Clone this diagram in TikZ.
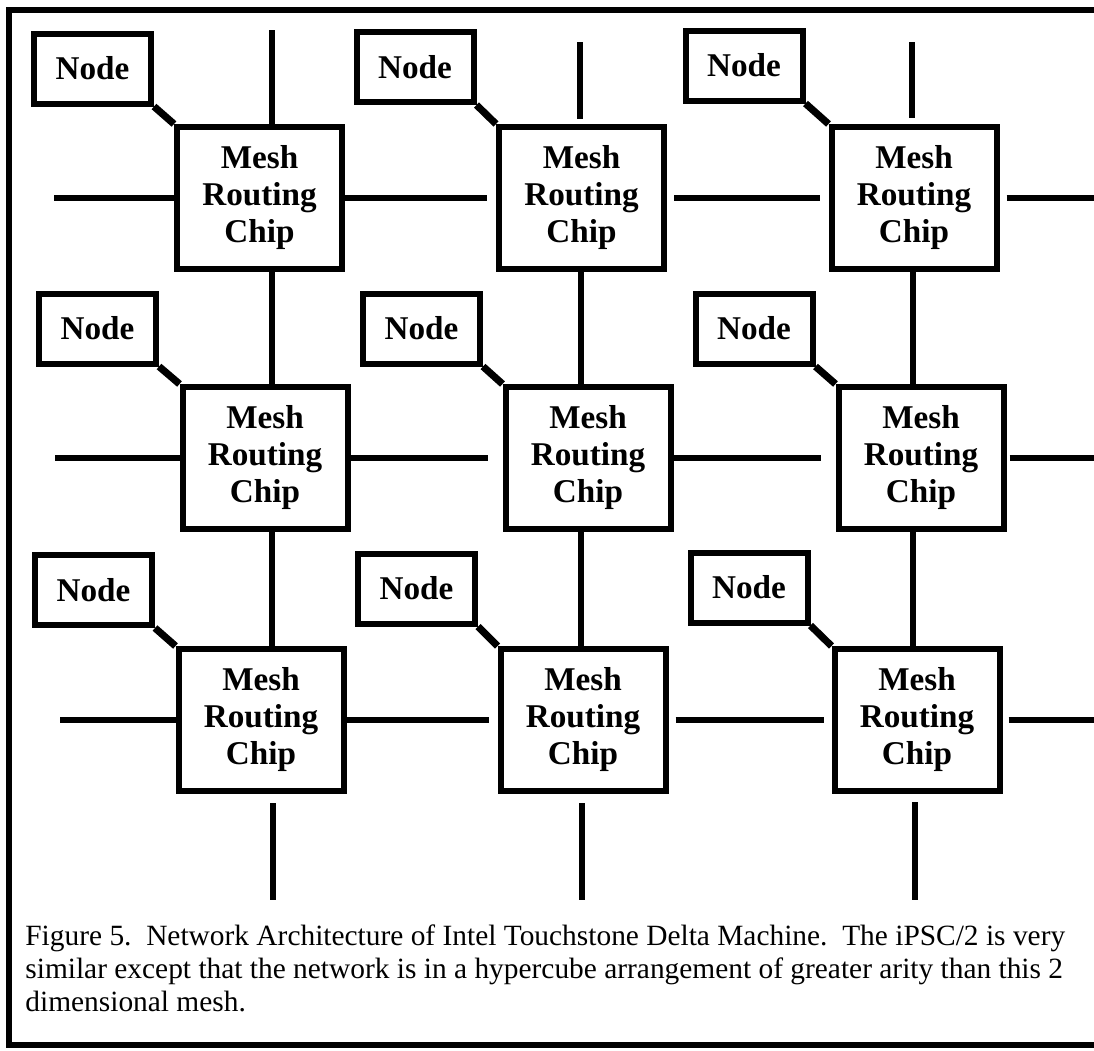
\documentclass[tikz,border=0pt]{standalone}
\usepackage{fontspec}
\setmainfont{Liberation Serif}
\usetikzlibrary{calc}
\begin{document}
\begin{tikzpicture}[x=0.5pt,y=-0.5pt,
  chip/.style={draw,line width=3pt,minimum width=82.5pt,minimum height=71pt,
    inner sep=0pt,align=center,font=\fontsize{16.6}{18.5}\selectfont\bfseries},
  pe/.style={draw,line width=3pt,minimum width=58.5pt,minimum height=35pt,
    inner sep=0pt,font=\fontsize{16.6}{18.5}\selectfont\bfseries},
  link/.style={line width=2.6pt},
  tap/.style={line width=3.6pt},
  frame/.style={line width=2.6pt},
  captxt/.style={anchor=base west,inner sep=0pt,font=\fontsize{14.7}{16.5}\selectfont}]

\useasboundingbox (0,0) rectangle (1094,1051);
\fill[white] (0,0) rectangle (1094,1051);
\clip (0,0) rectangle (1094,1051);

% outer frame (open on the right)
\draw[frame] (1110,10) -- (9,10) -- (9,1045) -- (1110,1045);

% processing nodes
\node[pe] (n11) at (92.5,68.5) {Node};
\node[pe] (n12) at (415,67) {Node};
\node[pe] (n13) at (744,65.5) {Node};
\node[pe] (n21) at (97.5,328.5) {Node};
\node[pe] (n22) at (421.5,328.5) {Node};
\node[pe] (n23) at (754,328.5) {Node};
\node[pe] (n31) at (93.5,590) {Node};
\node[pe] (n32) at (416.5,588.5) {Node};
\node[pe] (n33) at (749,587.5) {Node};

% mesh routing chips
\node[chip] (m11) at (259.5,198) {Mesh\\Routing\\Chip};
\node[chip] (m12) at (581.5,198) {Mesh\\Routing\\Chip};
\node[chip] (m13) at (914,198) {Mesh\\Routing\\Chip};
\node[chip] (m21) at (265,458) {Mesh\\Routing\\Chip};
\node[chip] (m22) at (588,458) {Mesh\\Routing\\Chip};
\node[chip] (m23) at (921,458) {Mesh\\Routing\\Chip};
\node[chip] (m31) at (261,720) {Mesh\\Routing\\Chip};
\node[chip] (m32) at (583,720) {Mesh\\Routing\\Chip};
\node[chip] (m33) at (917,720) {Mesh\\Routing\\Chip};

% column positions of the vertical links
\coordinate (v1) at (272,0);
\coordinate (v2) at (581,0);
\coordinate (v3) at (913,0);

% node-to-chip taps
\foreach \r in {1,2,3}{
  \foreach \c in {1,2,3}{
    \draw[tap] (n\r\c.south east) -- (m\r\c.north west);
  }
}

% horizontal mesh links
\draw[link,shorten >=4.5pt] (m11.east) -- (m12.west);
\draw[link,shorten <=3.5pt,shorten >=4.5pt] (m12.east) -- (m13.west);
\draw[link,shorten >=7.5pt] (m21.east) -- (m22.west);
\draw[link,shorten >=7.5pt] (m22.east) -- (m23.west);
\draw[link,shorten >=4.5pt] (m31.east) -- (m32.west);
\draw[link,shorten <=3.5pt,shorten >=4pt] (m32.east) -- (m33.west);

% open-ended links on the left and right
\coordinate (l1) at (54,198);
\coordinate (l2) at (55,458);
\coordinate (l3) at (60,720);
\coordinate (r1) at (1110,198);
\coordinate (r2) at (1110,458);
\coordinate (r3) at (1110,720);
\draw[link] (l1) -- (m11.west);
\draw[link] (l2) -- (m21.west);
\draw[link] (l3) -- (m31.west);
\draw[link,shorten <=3.5pt] (m13.east) -- (r1);
\draw[link,shorten <=1.5pt] (m23.east) -- (r2);
\draw[link,shorten <=3pt] (m33.east) -- (r3);

% vertical mesh links
\draw[link] (m11.south -| v1) -- (m21.north -| v1);
\draw[link] (m21.south -| v1) -- (m31.north -| v1);
\draw[link] (m12.south -| v2) -- (m22.north -| v2);
\draw[link] (m22.south -| v2) -- (m32.north -| v2);
\draw[link] (m13.south -| v3) -- (m23.north -| v3);
\draw[link] (m23.south -| v3) -- (m33.north -| v3);

% open-ended links at the top and bottom
\coordinate (t1) at (272,30);
\coordinate (t2) at (580,42);
\coordinate (t3) at (912,42);
\coordinate (b1) at (273,900);
\coordinate (b2) at (582,900);
\coordinate (b3) at (915,900);
\draw[link] (t1) -- (m11.north -| t1);
\draw[link,shorten >=2.5pt] (t2) -- (m12.north -| t2);
\draw[link,shorten >=3pt] (t3) -- (m13.north -| t3);
\draw[link,shorten <=4.5pt] (m31.south -| b1) -- (b1);
\draw[link,shorten <=4.5pt] (m32.south -| b2) -- (b2);
\draw[link,shorten <=4pt] (m33.south -| b3) -- (b3);

% caption
\node[captxt] (cap1) at (25,945) {Figure 5.\ \ Network Architecture of Intel Touchstone Delta Machine.\ \ The iPSC/2 is very};
\node[captxt] (cap2) at (25,978) {similar except that the network is in a hypercube arrangement of greater arity than this 2};
\node[captxt] (cap3) at (25,1011) {dimensional mesh.};
\end{tikzpicture}
\end{document}
